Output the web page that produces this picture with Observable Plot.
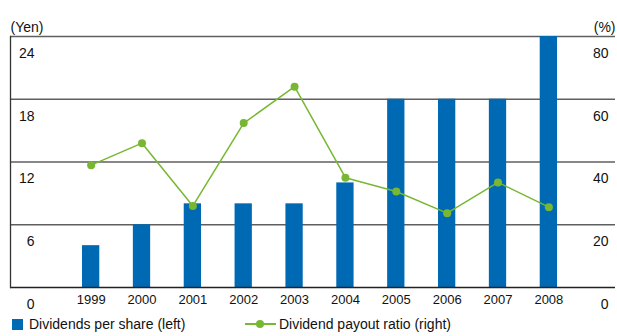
<!DOCTYPE html>
<html>
<head>
<meta charset="utf-8">
<script src="https://cdn.jsdelivr.net/npm/d3@7"></script>
<script src="https://cdn.jsdelivr.net/npm/@observablehq/plot@0.6"></script>
<style>
  html, body { margin: 0; padding: 0; background: #fff; }
  body { width: 617px; height: 336px; overflow: hidden; font-family: "Liberation Sans", Arial, Helvetica, sans-serif; }
  #chart svg { display: block; }
  .legend { position: relative; height: 24px; font-size: 14px; color: #111; }
  .item { position: absolute; top: 0; height: 24px; display: flex; align-items: center; }
  .sw { width: 11px; height: 11px; background: #0069b4; margin-right: 6px; }
  .ln { position: relative; width: 31px; height: 2px; background: #77b731; margin-right: 3px; }
  .ln::after { content: ""; position: absolute; left: 11px; top: -3px; width: 8px; height: 8px; border-radius: 50%; background: #77b731; }
</style>
</head>
<body>
<div id="chart"></div>
<div class="legend">
  <div class="item" style="left:12px"><span class="sw"></span><span>Dividends per share (left)</span></div>
  <div class="item" style="left:245px"><span class="ln"></span><span>Dividend payout ratio (right)</span></div>
</div>
<script>
const years = ["1999","2000","2001","2002","2003","2004","2005","2006","2007","2008"];
const dividends = [4, 6, 8, 8, 8, 10, 18, 18, 18, 24];      // Yen (left)
const payoutRatio = [39, 46, 26, 52.4, 64, 35, 30.6, 23.7, 33.5, 25.6]; // % (right)
const leftTicks = [0, 6, 12, 18, 24];
const rightTicks = [0, 20, 40, 60, 80];

const k = 24 / 80; // map % onto the yen scale
const barData = years.map((y, i) => ({year: y, value: dividends[i]}));
const lineData = years.map((y, i) => ({year: y, ratio: payoutRatio[i], v: payoutRatio[i] * k}));

const blue = "#0069b4";
const green = "#77b731";
const grid = "#5f5f5f";

const chart = Plot.plot({
  width: 617,
  height: 312,
  marginTop: 36,
  marginBottom: 25,
  marginLeft: 10,
  marginRight: 2,
  style: {fontFamily: "Liberation Sans, Arial, Helvetica, sans-serif", fontSize: "14px", color: "#111", background: "#fff"},
  x: {type: "band", domain: years, range: [82, 557], paddingInner: 0.66, paddingOuter: 0, round: false, axis: null},
  y: {domain: [0, 24], axis: null},
  marks: [
    Plot.ruleY([6, 12, 18, 24], {stroke: grid, strokeWidth: 1.3}),
    Plot.barY(barData, {x: "year", y: "value", fill: blue}),
    Plot.ruleY([0], {stroke: "#222", strokeWidth: 1.3}),
    Plot.frame({anchor: "left", stroke: "#333", strokeWidth: 1.3}),
    Plot.line(lineData, {x: "year", y: "v", stroke: green, strokeWidth: 1.5}),
    Plot.dot(lineData, {x: "year", y: "v", fill: green, r: 4}),
    Plot.axisX({ticks: years, tickSize: 0, tickPadding: 7, fontSize: 13, label: null}),
    Plot.axisY({anchor: "left", ticks: leftTicks, tickSize: 0, tickPadding: 0, dx: 24, dy: 17, textAnchor: "end", label: null, fontSize: 14}),
    Plot.axisY({anchor: "right", ticks: leftTicks, tickFormat: d => String(Math.round(d / k)), tickSize: 0, tickPadding: 0, dx: -7, dy: 17, textAnchor: "end", label: null, fontSize: 14}),
    Plot.text(["(Yen)"], {frameAnchor: "top-left", dy: -14, textAnchor: "start", fontSize: 14}),
    Plot.text(["(%)"], {frameAnchor: "top-right", dy: -14, textAnchor: "end", fontSize: 14})
  ]
});
document.getElementById("chart").appendChild(chart);
</script>
</body>
</html>
